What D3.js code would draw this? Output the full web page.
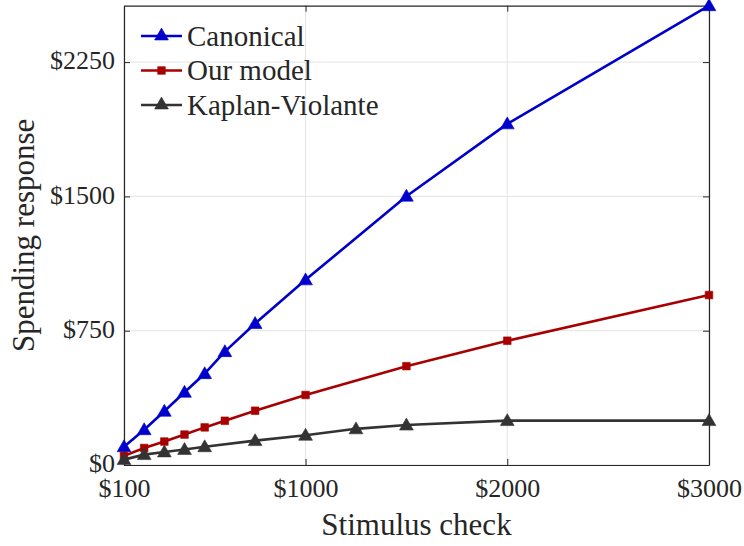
<!DOCTYPE html>
<html>
<head>
<meta charset="utf-8">
<script src="https://cdn.jsdelivr.net/npm/d3@7"></script>
<style>
  html, body { margin: 0; padding: 0; background: #fff; }
  svg { display: block; }
  text { font-family: "Liberation Serif", "DejaVu Serif", serif; fill: #262626; }
</style>
</head>
<body>
<svg id="chart" width="744" height="546"></svg>
<script>
// Stimulus check sizes (dollars)
const checkAmounts = [100, 200, 300, 400, 500, 600, 750, 1000, 1500, 2000, 3000];
const kvAmounts    = [100, 200, 300, 400, 500, 750, 1000, 1250, 1500, 2000, 3000];

// Spending responses (dollars)
const canonical = [102, 197, 300, 406, 510, 633, 790, 1034, 1501, 1905, 2565];
const ourModel  = [51, 95, 131, 170, 210, 247, 303, 391, 552, 694, 949];
const kaplanViolante = [30, 58, 73, 87, 102, 136, 166, 202, 223, 248, 248];

const seriesNames = ["Canonical", "Our model", "Kaplan-Violante"];
const xTicks = [100, 1000, 2000, 3000];
const yTicks = [0, 750, 1500, 2250];

const series = [
  { name: seriesNames[0], xs: checkAmounts, ys: canonical, color: "#0000cc", marker: "triangle" },
  { name: seriesNames[1], xs: checkAmounts, ys: ourModel, color: "#a80000", marker: "square" },
  { name: seriesNames[2], xs: kvAmounts, ys: kaplanViolante, color: "#333333", marker: "triangle" }
];

const FONT = '"Liberation Serif", "DejaVu Serif", serif';
const svg = d3.select("#chart");
const margin = { left: 124, right: 35, top: 5.7, bottom: 81 };
const W = 744, H = 546;
const x = d3.scaleLinear().domain([100, 3000]).range([margin.left, W - margin.right]);
const y = d3.scaleLinear().domain([0, d3.max(canonical)]).range([H - margin.bottom, margin.top]);
const x0 = x.range()[0], x1 = x.range()[1], y0 = y.range()[0], y1 = y.range()[1];
const axisColor = "#262626";
const money = d => "$" + d;

// grid
const grid = svg.append("g");
grid.selectAll(".vg").data(xTicks).join("line")
  .attr("x1", d => x(d)).attr("x2", d => x(d)).attr("y1", y0).attr("y2", y1)
  .attr("stroke", "#e3e3e3").attr("stroke-width", 1);
grid.selectAll(".hg").data(yTicks).join("line")
  .attr("y1", d => y(d)).attr("y2", d => y(d)).attr("x1", x0).attr("x2", x1)
  .attr("stroke", "#e3e3e3").attr("stroke-width", 1);

// axes (ticks pointing inward, box on)
function styleAxis(g) {
  g.attr("font-family", FONT).attr("font-size", 26);
  g.select(".domain").attr("stroke", axisColor).attr("stroke-width", 1.2);
  g.selectAll(".tick line").attr("stroke", axisColor).attr("stroke-width", 1);
  g.selectAll(".tick text").attr("fill", axisColor);
}
const xAxis = svg.append("g").attr("transform", `translate(0,${y0})`)
  .call(d3.axisBottom(x).tickValues(xTicks).tickFormat(money).tickSizeInner(-6).tickSizeOuter(0).tickPadding(14));
styleAxis(xAxis);
const xAxisTop = svg.append("g").attr("transform", `translate(0,${y1})`)
  .call(d3.axisTop(x).tickValues(xTicks).tickFormat("").tickSizeInner(-6).tickSizeOuter(0));
styleAxis(xAxisTop);
const yAxis = svg.append("g").attr("transform", `translate(${x0},0)`)
  .call(d3.axisLeft(y).tickValues(yTicks).tickFormat(money).tickSizeInner(-6).tickSizeOuter(0).tickPadding(9));
styleAxis(yAxis);
yAxis.selectAll(".tick text").attr("dy", "0.26em");
const yAxisRight = svg.append("g").attr("transform", `translate(${x1},0)`)
  .call(d3.axisRight(y).tickValues(yTicks).tickFormat("").tickSizeInner(-6).tickSizeOuter(0));
styleAxis(yAxisRight);

// axis titles
svg.append("text").attr("x", (x0 + x1) / 2).attr("y", 535)
  .attr("text-anchor", "middle").attr("font-family", FONT).attr("font-size", 31).text("Stimulus check");
svg.append("text").attr("transform", `translate(34,${(y0 + y1) / 2}) rotate(-90)`)
  .attr("text-anchor", "middle").attr("font-family", FONT).attr("font-size", 31).text("Spending response");

// markers
const triSym = d3.symbol().type(d3.symbolTriangle).size(82);
const sqSym = d3.symbol().type(d3.symbolSquare).size(58);
function drawMarker(g, s, cx, cy) {
  g.append("path")
    .attr("d", s.marker === "triangle" ? triSym() : sqSym())
    .attr("transform", `translate(${cx},${cy + (s.marker === "triangle" ? 1 : 0)})`)
    .attr("fill", s.color).attr("stroke", s.color).attr("stroke-width", 0.6);
}

const line = d3.line().x(d => x(d[0])).y(d => y(d[1]));
series.forEach(s => {
  const pts = s.xs.map((v, i) => [v, s.ys[i]]);
  svg.append("path").datum(pts).attr("d", line)
    .attr("fill", "none").attr("stroke", s.color).attr("stroke-width", 2.6)
    .attr("stroke-linejoin", "round");
  const mg = svg.append("g");
  pts.forEach(p => drawMarker(mg, s, x(p[0]), y(p[1])));
});

// legend
const legend = svg.append("g");
series.forEach((s, i) => {
  const ly = 36 + i * 34.5;
  legend.append("line").attr("x1", 141).attr("x2", 182).attr("y1", ly).attr("y2", ly)
    .attr("stroke", s.color).attr("stroke-width", 2.6);
  drawMarker(legend, s, 161.5, ly - (s.marker === "triangle" ? 1 : 0));
  legend.append("text").attr("x", 187).attr("y", ly).attr("dy", "0.33em")
    .attr("font-family", FONT).attr("font-size", 29).text(s.name);
});
</script>
</body>
</html>
